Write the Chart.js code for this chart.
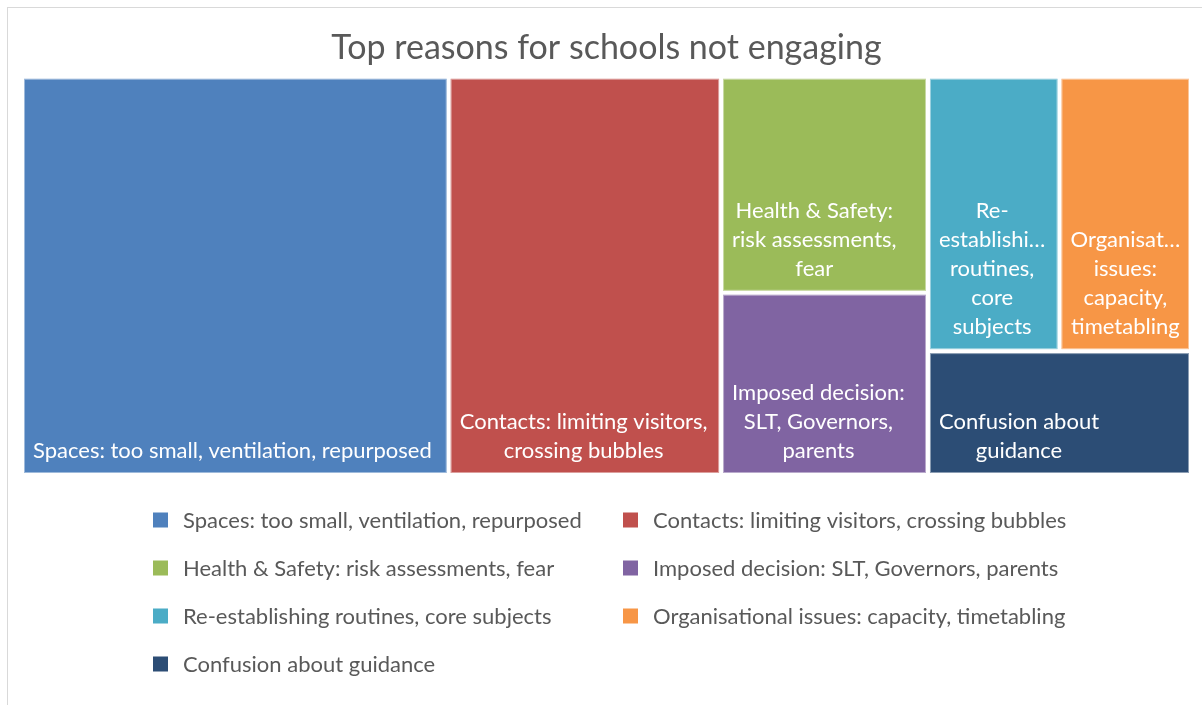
<!DOCTYPE html>
<html>
<head>
<meta charset="utf-8">
<title>Top reasons for schools not engaging</title>
<script src="https://cdn.jsdelivr.net/npm/chart.js@4.4.1/dist/chart.umd.min.js"></script>
<style>
    html, body { margin: 0; padding: 0; background: #fff; }
</style>
</head>
<body>
<canvas id="treemapChart" width="1202" height="705"></canvas>
<script>
// Reasons, in the order Excel lists them in the legend
const reasons = [
    'Spaces: too small, ventilation, repurposed',
    'Contacts: limiting visitors, crossing bubbles',
    'Health & Safety: risk assessments, fear',
    'Imposed decision: SLT, Governors, parents',
    'Re-establishing routines, core subjects',
    'Organisational issues: capacity, timetabling',
    'Confusion about guidance'
];
// Share of responses (%)
const shares = [36.5, 23.3, 9.6, 8.1, 7.75, 7.75, 7.0];

const palette = ['#4F81BD', '#C0504D', '#9BBB59', '#8064A2', '#4BACC6', '#F79646', '#2C4D75'];
const FONT = 'Lato, "Open Sans", sans-serif';
const TEXT_GREY = '#595959';

// a row keeps growing while it is not much worse than before (Excel packs near-ties together)
const ROW_SLACK = 1.1;

function sum(arr) {
    return arr.reduce((a, b) => a + b, 0);
}

function worstRatio(areas, side) {
    const s = sum(areas);
    const s2 = side * side;
    return Math.max(s2 * Math.max(...areas) / (s * s), (s * s) / (s2 * Math.min(...areas)));
}

// Squarified treemap in pixel space, returned as 0..100 data units
function squarify(values, width, height) {
    const total = sum(values);
    const areas = values.map(v => v / total * width * height);
    const rects = [];
    const box = { x: 0, y: 0, w: width, h: height };
    let i = 0;
    while (i < areas.length) {
        const side = Math.min(box.w, box.h);
        const row = [areas[i]];
        let j = i + 1;
        while (j < areas.length && worstRatio(row.concat(areas[j]), side) <= worstRatio(row, side) * ROW_SLACK) {
            row.push(areas[j]);
            j++;
        }
        const rowArea = sum(row);
        if (box.w >= box.h) {
            const colW = rowArea / box.h;
            let yy = box.y;
            row.forEach(a => {
                rects.push({ x: box.x, y: yy, w: colW, h: a / colW });
                yy += a / colW;
            });
            box.x += colW;
            box.w -= colW;
        } else {
            const rowH = rowArea / box.w;
            let xx = box.x;
            row.forEach(a => {
                rects.push({ x: xx, y: box.y, w: a / rowH, h: rowH });
                xx += a / rowH;
            });
            box.y += rowH;
            box.h -= rowH;
        }
        i = j;
    }
    return rects.map(r => ({
        x0: r.x / width * 100,
        x1: (r.x + r.w) / width * 100,
        y0: r.y / height * 100,
        y1: (r.y + r.h) / height * 100
    }));
}

// Break on spaces and after hyphens, cut words that still don't fit with an ellipsis
function wrapLabel(ctx, text, maxWidth) {
    const tokens = [];
    text.split(' ').forEach((word, wi) => {
        const parts = word.split(/(?<=-)/);
        parts.forEach((p, pi) => tokens.push({ text: p, sep: (pi === 0 && wi > 0) ? ' ' : '' }));
    });
    const fit = (t) => {
        if (ctx.measureText(t).width <= maxWidth) return t;
        let cut = t;
        while (cut.length > 1 && ctx.measureText(cut + '\u2026').width > maxWidth) {
            cut = cut.slice(0, -1);
        }
        return cut + '\u2026';
    };
    const lines = [];
    let line = '';
    tokens.forEach(tok => {
        const trial = line ? line + tok.sep + tok.text : tok.text;
        if (!line || ctx.measureText(trial).width <= maxWidth) {
            line = trial;
        } else {
            lines.push(fit(line));
            line = tok.text;
        }
    });
    if (line) lines.push(fit(line));
    return lines;
}

const treemapPlugin = {
    id: 'treemap',
    beforeDraw(chart) {
        const { ctx, width, height } = chart;
        ctx.save();
        ctx.fillStyle = '#ffffff';
        ctx.fillRect(0, 0, width, height);
        ctx.strokeStyle = '#d9d9d9';
        ctx.lineWidth = 1;
        ctx.strokeRect(7.5, 7.5, width, height);
        ctx.restore();
    },
    afterDatasetsDraw(chart) {
        const { ctx, chartArea, scales: { x, y } } = chart;
        const cells = squarify(shares, chartArea.width, chartArea.height);
        const gap = 2;
        const pad = 8;
        const lineH = 29;
        ctx.save();
        cells.forEach((c, i) => {
            const left = x.getPixelForValue(c.x0) + gap;
            const right = x.getPixelForValue(c.x1) - gap;
            const top = y.getPixelForValue(c.y0) + gap;
            const bottom = y.getPixelForValue(c.y1) - gap;
            ctx.fillStyle = palette[i];
            ctx.fillRect(left, top, right - left, bottom - top);
            ctx.strokeStyle = 'rgba(255,255,255,0.45)';
            ctx.lineWidth = 1;
            ctx.strokeRect(left + 0.5, top + 0.5, right - left - 1, bottom - top - 1);

            ctx.font = '22px ' + FONT;
            ctx.fillStyle = '#ffffff';
            ctx.textAlign = 'center';
            ctx.textBaseline = 'middle';
            const lines = wrapLabel(ctx, reasons[i], right - left - 2 * pad);
            const blockW = Math.max(...lines.map(l => ctx.measureText(l).width));
            const cx = left + pad + 1 + blockW / 2;
            lines.forEach((l, k) => {
                ctx.fillText(l, cx, bottom - 22 - (lines.length - 1 - k) * lineH);
            });
        });
        ctx.restore();
    },
    afterDraw(chart) {
        // two-column legend under the tiles
        const { ctx, chartArea } = chart;
        const colX = [153, 623];
        const textOffset = 30;
        const rowTop = chartArea.bottom + 45;
        const rowGap = 48;
        ctx.save();
        ctx.font = '22px ' + FONT;
        ctx.textAlign = 'left';
        ctx.textBaseline = 'middle';
        reasons.forEach((r, i) => {
            const cx = colX[i % 2];
            const cy = rowTop + Math.floor(i / 2) * rowGap;
            ctx.fillStyle = palette[i];
            ctx.fillRect(cx, cy - 7.5, 15, 15);
            ctx.fillStyle = TEXT_GREY;
            ctx.fillText(r, cx + textOffset, cy + 1);
        });
        ctx.restore();
    }
};

const ctx = document.getElementById('treemapChart').getContext('2d');
new Chart(ctx, {
    type: 'scatter',
    data: {
        datasets: [{ label: 'Reasons', data: [] }]
    },
    options: {
        responsive: false,
        animation: false,
        layout: {
            padding: { left: 22, right: 11, top: 12, bottom: 230 }
        },
        scales: {
            x: { type: 'linear', min: 0, max: 100, display: false },
            y: { type: 'linear', min: 0, max: 100, reverse: true, display: false }
        },
        plugins: {
            legend: { display: false },
            tooltip: { enabled: false },
            title: {
                display: true,
                text: 'Top reasons for schools not engaging',
                color: TEXT_GREY,
                font: { family: FONT, size: 34, weight: 'normal' },
                padding: { top: 16, bottom: 8 }
            }
        }
    },
    plugins: [treemapPlugin]
});
</script>
</body>
</html>
